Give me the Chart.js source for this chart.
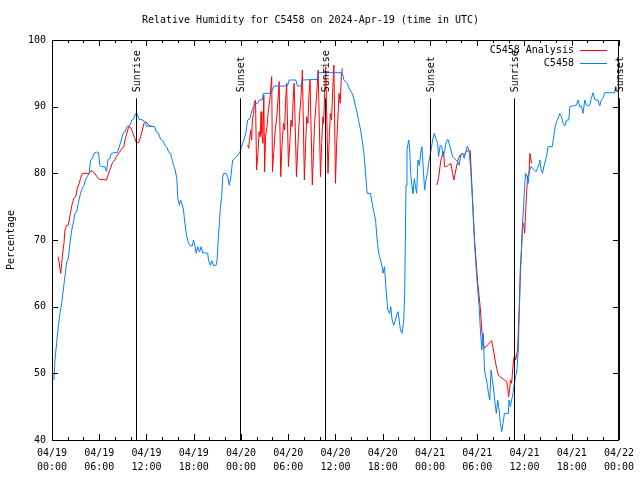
<!DOCTYPE html>
<html>
<head>
<meta charset="utf-8">
<script src="https://cdn.jsdelivr.net/npm/chart.js@4/dist/chart.umd.min.js"></script>
<style>
  body { margin: 0; background: #fff; }
  canvas { display: block; }
</style>
</head>
<body>
<canvas id="rhChart" width="640" height="480"></canvas>
<script>
// Hours since 04/19 00:00 UTC
const stationHours = [0.25,0.38,0.59,0.80,1.01,1.23,1.43,1.64,1.86,2.06,2.28,2.49,2.70,2.91,3.13,3.33,3.63,3.83,4.05,4.26,4.47,4.72,4.90,5.10,5.35,5.66,5.91,6.07,6.29,6.71,6.92,7.12,7.34,7.55,7.97,8.31,8.52,8.73,9.02,9.27,9.53,9.87,10.16,10.38,10.63,10.79,11.05,11.55,11.86,11.98,13.03,13.25,13.54,13.79,14.08,14.39,14.64,14.80,15.06,15.22,15.44,15.65,15.85,15.98,16.20,16.32,16.49,16.70,16.83,16.96,17.12,17.34,17.59,17.80,17.97,18.09,18.31,18.51,18.73,18.94,19.14,19.36,19.78,19.87,20.12,20.28,20.50,20.84,20.97,21.13,21.26,21.38,21.55,21.68,21.80,22.11,22.31,22.52,22.74,22.94,23.16,23.57,23.88,24.21,24.42,24.64,24.84,25.14,25.34,25.60,25.81,26.10,26.32,26.70,26.83,27.80,28.22,29.90,30.11,30.96,31.17,31.59,31.80,33.66,33.82,36.86,37.07,37.49,37.71,38.12,38.34,38.55,38.76,38.97,39.19,39.39,39.61,39.82,40.02,40.45,40.66,40.87,41.09,41.29,41.50,41.72,41.92,42.05,42.22,42.48,42.64,42.86,43.02,43.19,43.40,43.62,43.82,43.95,44.25,44.45,44.54,44.67,44.79,44.96,45.08,45.30,45.43,45.55,45.72,45.84,46.02,46.15,46.31,46.48,46.65,46.82,46.98,47.16,47.32,47.49,47.67,47.83,47.99,48.17,48.34,48.55,48.75,48.97,49.09,49.31,49.51,49.64,49.85,50.02,50.27,50.49,50.65,50.87,51.08,51.28,51.50,51.71,51.92,52.13,52.35,52.55,52.77,52.98,53.18,53.40,53.56,53.74,53.91,54.07,54.25,54.38,54.58,54.79,54.92,55.08,55.26,55.42,55.59,55.76,55.93,56.09,56.27,56.43,56.60,56.78,56.94,57.11,57.28,57.45,57.95,58.04,58.21,58.37,58.55,58.71,58.88,59.05,59.22,59.34,59.51,59.64,59.76,59.89,60.02,60.14,60.32,60.48,60.61,60.83,61.03,61.46,61.66,61.88,61.96,62.09,62.29,62.51,62.80,63.01,63.52,63.69,63.86,64.06,64.28,64.49,64.69,64.91,65.13,65.33,65.63,65.76,66.09,66.60,66.81,67.02,67.23,67.44,67.66,67.86,68.08,68.29,68.49,68.71,68.92,69.13,69.34,69.56,69.76,69.97,70.19,71.45,71.58,71.75,71.87];
const stationRH = [49.0,52,54.6,57,59,60.5,62.5,64.5,66.7,67.2,69.5,71.4,72.5,74,74.2,75.5,77,77.7,78.2,79,79.5,80,82,82.2,83,83.2,83.1,81.2,81,81,80.3,82.1,82.2,83,83.1,83.1,83.9,84.7,86,86.2,87,87.2,88,88.2,89,89,88.1,88,87.5,87.1,87,86.2,86,85.1,84.9,84.1,83.8,83.2,83,82.2,81.2,80.5,79.2,76.2,75.2,76,75.5,74.5,73,71.8,70.5,69.5,69.1,69.1,70,69.5,68,69,68.2,69,68.1,68.1,68,67,66.2,66.9,66.2,66.2,67,70.5,72.5,74.8,76.5,79.5,80,80,79.5,78.2,79.7,82,82.2,82.7,83.2,84.5,85.2,86.2,88,88.2,89.2,90,90.5,90.5,91,91,92,92,93.1,93.1,94,94,93.1,93.1,94,94.1,95.1,95.1,94,93.5,92.8,92,91.2,90,89,87.7,86.5,85,83,80,77,77,75.5,74.2,73,70,68,67,66,65,66,61.75,59.5,59,60,58,57.2,58,59,59.25,56.5,56,56,58,62,78.2,83.5,85,83.5,80,78,77,79.2,78,77,82,81.2,83,84,80.5,77.5,79,80,81.5,82.5,83.75,85,86,85.2,84.5,82.5,84.25,84,82.5,83.25,84.5,85.1,84.25,83.5,82.5,82.25,82,81.75,81.2,82.75,83,82.25,83.25,84.1,83.25,80.5,76,72,68,65,62.5,60,57,53.5,56,50.5,49.5,48.5,47,46,50.5,49,47.5,45.5,44,46,44.5,42.5,41.25,42.5,44,44,46,45,46,47,48.5,49.5,50.5,53.5,59,65.5,69,72.5,75,78,80,79.5,78.5,80.25,81,80.75,80.25,80.75,81.5,82,80.75,80,81.25,82.5,84,84,85.25,86.75,87.75,88.25,89,88.5,87.5,87.1,88,88,90,90.1,90.25,91,90,90.1,89,91,90.25,90.1,90.25,91.25,92.1,91.1,91,91,90.1,91,91.25,92.1,92.1,93,92.5,92.4];

// Analysis series; null marks a gap in the record
const analysisHours = [0.80,1.10,1.23,1.35,1.52,1.64,1.86,2.06,2.19,2.37,2.53,2.78,3.04,3.20,3.45,3.63,3.83,4.72,4.93,5.23,5.57,5.86,6.07,6.92,7.12,7.34,7.68,7.97,8.19,8.52,8.82,9.11,9.27,9.53,9.74,10.00,10.21,10.50,10.72,11.01,11.26,11.48,11.68,11.89,12.19,12.40,12.94,13.5,
  24.85,24.98,25.10,25.25,25.35,25.45,25.60,25.72,25.85,25.98,
  26.15,26.30,26.45,26.55,26.65,26.78,26.90,27.00,
  27.12,27.30,27.45,27.70,27.90,28.00,
  28.15,28.35,28.55,28.70,28.85,29.05,
  29.20,29.40,29.55,29.65,29.80,30.03,
  30.20,30.35,30.50,30.62,30.75,31.05,
  31.20,31.35,31.50,31.65,31.80,32.05,
  32.20,32.35,32.50,32.62,32.77,33.06,
  33.20,33.35,33.50,33.65,33.80,34.10,
  34.25,34.40,34.50,34.62,34.76,35.05,
  35.20,35.35,35.50,35.65,35.80,36.00,
  36.15,36.30,36.45,36.60,36.75,36.86,37.5,
  48.88,49.09,49.22,49.39,49.51,49.73,49.85,50.11,50.36,50.65,50.87,51.03,51.21,51.41,51.63,51.84,52.13,52.39,52.60,52.89,53.11,53.23,53.40,53.53,53.65,53.82,53.94,54.07,54.25,54.41,54.58,54.75,54.92,55.84,56.06,56.27,56.47,56.69,56.90,57.32,57.74,57.86,57.99,58.12,58.24,58.37,58.50,58.62,58.75,58.88,59.13,59.22,59.34,59.47,59.64,59.76,59.89,60.02,60.14,60.27,60.40,60.57,60.70,60.83,60.90];
const analysisRH = [67.5,65,66.5,68,69.5,71.5,72.2,72.2,73,74.25,75.25,76.25,76.6,77.75,78.5,79.25,80,80,80.4,80.25,79.75,79.25,79.1,79,79.75,80.5,81.6,82,82.5,83.1,83.6,84,85,86.1,87,86.9,86.25,85.25,84.6,84.6,85.5,86.5,87.5,87.75,87.4,87.1,87,null,
  84.25,83.75,85.25,86.5,85.0,88,89,90.75,91,80.5,
  83,86.25,85.5,89.25,86,84.5,91.75,80.25,
  85.5,87,89,91.5,94.5,80.25,
  83,86.5,88.5,91,93.75,79.5,
  84,87.5,86.5,90.5,93.5,81,
  84.5,88,87,91,93.5,79.5,
  83.5,87,89.5,92,95.5,79,
  84,88.5,87.5,91.5,94,78.25,
  83,87.5,90,92.5,95.5,79.5,
  84.5,88.5,87.5,92,96,80,
  85,89,88,92.5,96.25,78.5,
  84.5,88,92,90.5,94.5,95.75,null,
  78.25,79.25,80.5,82,82.5,83.25,81,81,81.25,81.5,80,79,80,81.25,82.25,82.75,83,82.75,83.25,83.4,83.4,80.5,76.25,73.25,70,67.5,65.5,63.5,61.5,59.5,56.5,54.5,53.75,54.9,53.5,52,50.75,49.75,49.5,49.1,48.75,48,46.5,47.75,49,48.5,50.5,52,52.75,52,53.5,56.5,60,65.5,69,72.5,72.5,71,74,77,79.5,80,83,82,81.5];

// x tick labels every 6 hours
const xTickDates = ['04/19','04/19','04/19','04/19','04/20','04/20','04/20','04/20','04/21','04/21','04/21','04/21','04/22'];
const xTickTimes = ['00:00','06:00','12:00','18:00','00:00','06:00','12:00','18:00','00:00','06:00','12:00','18:00','00:00'];

// sunrise / sunset markers
const eventNames = ['Sunrise','Sunset','Sunrise','Sunset','Sunrise','Sunset'];
const eventHours = [10.72, 23.93, 34.69, 47.96, 58.66, 71.98];
const eventTop = 91.25;

const FONT = "'DejaVu Sans Mono', 'Liberation Mono', monospace";

const toPoints = (xs, ys) => xs.map((x, i) => ({ x: x, y: ys[i] }));

// frame, inward ticks, sun markers and gnuplot-style key
const gnuplotDecor = {
    id: 'gnuplotDecor',
    afterDraw(chart) {
        const { ctx, chartArea: a, scales } = chart;
        const xs = scales.x, ys = scales.y;
        ctx.save();
        ctx.strokeStyle = '#000';
        ctx.lineWidth = 1;
        ctx.strokeRect(a.left + 0.5, a.top + 0.5, a.right - a.left - 1, a.bottom - a.top);

        ctx.beginPath();
        xs.ticks.forEach(t => {
            const px = Math.round(xs.getPixelForValue(t.value)) + 0.5;
            const len = t.value % 6 === 0 ? 6 : 3;
            ctx.moveTo(px, a.bottom); ctx.lineTo(px, a.bottom - len);
            ctx.moveTo(px, a.top); ctx.lineTo(px, a.top + len);
        });
        ys.ticks.forEach(t => {
            const py = Math.round(ys.getPixelForValue(t.value)) + 0.5;
            ctx.moveTo(a.left, py); ctx.lineTo(a.left + 6, py);
            ctx.moveTo(a.right, py); ctx.lineTo(a.right - 6, py);
        });
        ctx.stroke();

        // sun events
        const yTop = ys.getPixelForValue(eventTop);
        ctx.font = '10px ' + FONT;
        ctx.fillStyle = '#000';
        eventHours.forEach((h, i) => {
            const px = Math.round(xs.getPixelForValue(h)) + 0.5;
            ctx.beginPath();
            ctx.moveTo(px, yTop);
            ctx.lineTo(px, a.bottom);
            ctx.stroke();
            ctx.save();
            ctx.translate(px + 1, yTop - 6);
            ctx.rotate(-Math.PI / 2);
            ctx.textAlign = 'left';
            ctx.textBaseline = 'middle';
            ctx.fillText(eventNames[i], 0, 0);
            ctx.restore();
        });

        // key
        ctx.textAlign = 'right';
        ctx.textBaseline = 'middle';
        chart.data.datasets.forEach((ds, i) => {
            const ky = a.top + 10 + i * 13;
            ctx.fillStyle = '#000';
            ctx.fillText(ds.label, a.right - 45, ky);
            ctx.strokeStyle = ds.borderColor;
            ctx.beginPath();
            ctx.moveTo(a.right - 39, ky + 0.5);
            ctx.lineTo(a.right - 12, ky + 0.5);
            ctx.stroke();
        });
        ctx.restore();
    }
};

new Chart(document.getElementById('rhChart'), {
    type: 'line',
    data: {
        datasets: [
            {
                label: 'C5458 Analysis',
                data: toPoints(analysisHours, analysisRH),
                borderColor: '#ff0000',
                borderWidth: 1,
                pointRadius: 0,
                tension: 0,
                spanGaps: false,
                order: 1
            },
            {
                label: 'C5458',
                data: toPoints(stationHours, stationRH),
                borderColor: 'rgb(0,128,255)',
                borderWidth: 1,
                pointRadius: 0,
                tension: 0,
                order: 0
            }
        ]
    },
    options: {
        responsive: false,
        animation: false,
        devicePixelRatio: 1,
        layout: { padding: { top: 0, right: 19, bottom: 0, left: 0 } },
        scales: {
            x: {
                type: 'linear',
                min: 0,
                max: 72,
                grid: { display: false, drawTicks: false },
                border: { display: false },
                ticks: {
                    stepSize: 2,
                    autoSkip: false,
                    maxRotation: 0,
                    padding: 6,
                    color: '#000',
                    font: { family: FONT, size: 10, lineHeight: 1.4 },
                    callback: v => v % 6 === 0 ? [xTickDates[v / 6], xTickTimes[v / 6]] : ''
                },
                afterFit: s => { s.height = 40; }
            },
            y: {
                min: 40,
                max: 100,
                grid: { display: false, drawTicks: false },
                border: { display: false },
                ticks: {
                    stepSize: 10,
                    padding: 6,
                    color: '#000',
                    font: { family: FONT, size: 10 }
                },
                title: {
                    display: true,
                    text: 'Percentage',
                    color: '#000',
                    font: { family: FONT, size: 10 },
                    padding: { top: 5, bottom: 0 }
                },
                afterFit: s => { s.width = 52; }
            }
        },
        plugins: {
            legend: { display: false },
            tooltip: { enabled: false },
            title: {
                display: true,
                text: 'Relative Humidity for C5458 on 2024-Apr-19 (time in UTC)',
                color: '#000',
                font: { family: FONT, size: 10, weight: 'normal' },
                padding: { top: 14, bottom: 14 }
            }
        }
    },
    plugins: [gnuplotDecor]
});
</script>
</body>
</html>
